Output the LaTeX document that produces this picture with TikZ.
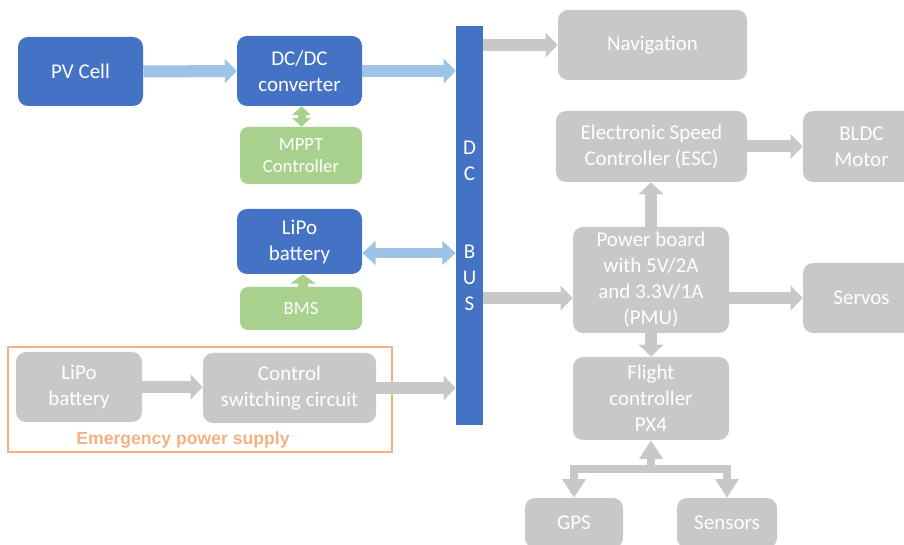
\documentclass[tikz,border=0pt]{standalone}
\usepackage{fontspec}
\setmainfont{Carlito}
\newfontfamily\arialf{Liberation Sans}
\usetikzlibrary{arrows.meta,calc}
\definecolor{cblue}{HTML}{4472C4}
\definecolor{clblue}{HTML}{9DC3E6}
\definecolor{cgreen}{HTML}{A9D18E}
\definecolor{cgray}{HTML}{C8C8C8}
\definecolor{corange}{HTML}{F4B183}
\newcommand\bx[7]{\node[#6, minimum width={(#4-#2)*0.75pt}, minimum height={(#5-#3)*0.75pt}] (#1) at ({(#2+#4)/2},{(#3+#5)/2}) {#7};}
\tikzset{
  boxbase/.style={rounded corners=7.5pt, inner sep=0pt, align=center, text=white, font=\fontsize{15.75}{19.5}\selectfont},
  bluebox/.style={boxbase, fill=cblue},
  graybox/.style={boxbase, fill=cgray},
  greenbox/.style={boxbase, fill=cgreen, rounded corners=6pt, font=\fontsize{14}{16.5}\selectfont},
  barr/.style={draw=clblue, line width=9pt, -{Triangle[width=18pt,length=9pt]}},
  bdarr/.style={draw=clblue, line width=7.5pt, {Triangle[width=17.5pt,length=10pt]}-{Triangle[width=17.5pt,length=10pt]}},
  garr/.style={draw=cgray, line width=9pt, -{Triangle[width=18pt,length=9pt]}},
  gnarr/.style={draw=cgreen, line width=7pt, -{Triangle[width=18.5pt,length=7pt]}},
  gndarr/.style={draw=cgreen, line width=6pt, {Triangle[width=13.5pt,length=6.5pt]}-{Triangle[width=13.5pt,length=6.5pt]}},
  treearr/.style={draw=cgray, line width=6pt},
  treetip/.tip={Triangle[width=17pt,length=14pt]}
}
\begin{document}
\begin{tikzpicture}[x=0.75pt,y=-0.75pt]
\useasboundingbox (0,0) rectangle (904,545);
\clip (0,0) rectangle (904,545);
% left side
\bx{pv}{18}{37}{143}{106}{bluebox}{PV Cell}
\bx{dcdc}{237}{36}{362}{106}{bluebox}{DC/DC\\converter}
\bx{mppt}{240}{127}{362}{184}{greenbox}{MPPT\\Controller}
\bx{lipo}{237}{209}{362}{274}{bluebox}{LiPo\\battery}
\bx{bms}{240}{287}{362}{330}{greenbox}{BMS}
\bx{emg}{8}{347}{392}{452}{draw=corange, line width=1.7pt, inner sep=0pt}{}
\bx{elipo}{16}{352}{142}{422}{graybox}{LiPo\\battery}
\bx{csc}{203}{353}{376}{423}{graybox}{Control\\switching circuit}
\node[text=corange, font=\arialf\bfseries\fontsize{13.2}{15}\selectfont, inner sep=0pt] (emgt) at (183,440) {Emergency power supply};
% bus
\bx{bus}{456}{26}{483}{425}{fill=cblue, inner sep=0pt, align=center, text=white, font=\fontsize{15.75}{19.5}\selectfont}{D\\C\\\mbox{}\\\mbox{}\\B\\U\\S}
% right side
\bx{nav}{558}{10}{747}{80}{graybox}{Navigation}
\bx{esc}{556}{111}{747}{182}{graybox}{Electronic Speed\\Controller (ESC)}
\bx{bldc}{803}{111}{920}{182}{graybox}{BLDC\\Motor}
\bx{pmu}{573}{227}{729}{333}{graybox}{Power board\\with 5V/2A\\and 3.3V/1A\\(PMU)}
\bx{servos}{803}{263}{920}{333}{graybox}{Servos}
\bx{fc}{573}{357}{729}{440}{graybox}{Flight\\controller\\PX4}
\bx{gps}{525}{498}{623}{548}{graybox}{GPS}
\bx{sens}{677}{498}{777}{548}{graybox}{Sensors}
% connectors left
\draw[barr] (pv.east) -- (dcdc.west);
\draw[barr] (dcdc.east) -- (dcdc.east -| bus.west);
\draw[gndarr] ($(dcdc.south)+(2,0)$) -- ($(dcdc.south |- mppt.north)+(2,0)$);
\draw[gnarr] ($(bms.north)+(2,0)$) -- ($(bms.north |- lipo.south)+(2,0)$);
\draw[bdarr] ($(lipo.east)+(0,11.5)$) -- ($(lipo.east -| bus.west)+(0,11.5)$);
\draw[garr] (elipo.east) -- (elipo.east -| csc.west);
\draw[garr] (csc.east) -- (csc.east -| bus.west);
% connectors right
\draw[garr] (nav.west -| bus.east) -- (nav.west);
\draw[garr] (esc.east) -- (esc.east -| bldc.west);
\draw[garr] (servos.west -| bus.east) -- (servos.west -| pmu.west);
\draw[garr] (pmu.east |- servos.west) -- (servos.west);
\draw[garr] (pmu.north) -- (pmu.north |- esc.south);
\draw[garr] (pmu.south) -- (fc.north);
\coordinate (junc) at (651,469);
\draw[treearr, treetip-] (fc.south) -- (junc);
\draw[treearr, -treetip] (junc) -| (gps.north);
\draw[treearr, -treetip] (junc) -| (sens.north);
\end{tikzpicture}
\end{document}
